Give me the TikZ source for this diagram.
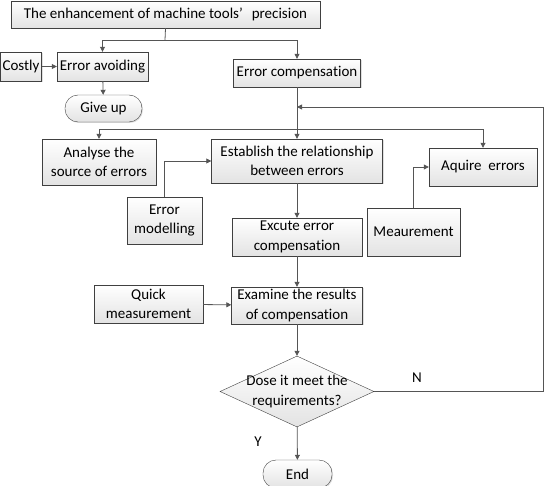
\documentclass[tikz,border=0pt]{standalone}
\usepackage{fontspec}
\setmainfont{Carlito}[Ligatures={NoCommon}]
\usepackage{tikz}
\usetikzlibrary{positioning,arrows.meta,shapes.geometric,shadows}
\definecolor{edgegray}{HTML}{404040}
\definecolor{linegray}{HTML}{555555}

\tikzset{
    box/.style={draw=edgegray, thin, top color=white, bottom color=gray!22, align=center,
        inner sep=0pt, font=\fontsize{15}{19.5}\selectfont,
        drop shadow={shadow xshift=1pt, shadow yshift=-1pt, opacity=0.25}},
    roundbox/.style={box, rounded corners=13pt},
    decision/.style={diamond, draw=edgegray, thin, top color=white, bottom color=gray!22,
        inner sep=0pt, aspect=2.17},
    arr/.style={-{Triangle[length=5pt,width=5pt]}, linegray, thick},
    wire/.style={linegray, thick},
    tag/.style={font=\fontsize{15}{19.5}\selectfont}
}

\begin{document}
\begin{tikzpicture}[x=1pt, y=-1pt]
    \useasboundingbox (0,0) rectangle (545,486);

    % boxes
    \node[box, minimum width=309pt, minimum height=27pt] (top) at (165.5,14.5) {The enhancement of machine tools’\hspace{0.6em}precision};
    \node[box, minimum width=41pt, minimum height=29pt] (costly) at (21,66.5) {Costly};
    \node[box, minimum width=91pt, minimum height=29pt] (avoid) at (102.5,66.5) {Error avoiding};
    \node[box, minimum width=127pt, minimum height=28pt] (comp) at (297,73) {Error compensation};
    \node[roundbox, minimum width=77pt, minimum height=27pt] (giveup) at (103.5,108.5) {Give up};
    \node[box, minimum width=114pt, minimum height=46pt] (analyse) at (99,162) {Analyse the\\source of errors};
    \node[box, minimum width=171pt, minimum height=44pt] (establish) at (297,161) {Establish the relationship\\between errors};
    \node[box, minimum width=108pt, minimum height=38pt] (aquire) at (483,167) {Aquire\ \ errors};
    \node[box, minimum width=75pt, minimum height=47pt] (model) at (164.5,220.5) {Error\\modelling};
    \node[box, minimum width=130pt, minimum height=38pt] (excute) at (297,237) {Excute error\\compensation};
    \node[box, minimum width=93pt, minimum height=48pt] (meas) at (413.5,232) {Meaurement};
    \node[box, minimum width=109pt, minimum height=38pt] (quick) at (148.5,304) {Quick\\measurement};
    \node[box, minimum width=131pt, minimum height=37pt] (examine) at (297,305.5) {Examine the results\\of compensation};
    \node[decision, minimum width=154pt, minimum height=71pt] (dec) at (297,391.5) {};
    \node[tag, align=center] (dectext) at (dec) {Dose it meet the\\requirements?};
    \node[roundbox, minimum width=69pt, minimum height=28pt] (end) at (297.5,474) {End};

    % junctions
    \coordinate (split1) at (165,40);
    \coordinate (split2) at (297,129.5);
    \coordinate (loopin) at (297,107);
    \coordinate (loopdn) at (543,391.5);
    \coordinate (loopup) at (543,107);

    % connectors
    \draw[wire] (top.south) -- (split1);
    \draw[arr] (split1) -| (avoid.north);
    \draw[arr] (split1) -| (comp.north);
    \draw[arr] (costly) -- (avoid);
    \draw[arr] (avoid) -- (giveup);
    \draw[wire] (comp.south) -- (split2);
    \draw[arr] (split2) -| (analyse.north);
    \draw[arr] (split2) -- (establish.north);
    \draw[arr] (split2) -| (aquire.north);
    \draw[arr] (model.north) |- (establish.west);
    \draw[arr] (meas.north) |- (aquire.west);
    \draw[arr] (establish) -- (excute);
    \draw[arr] (excute) -- (examine);
    \draw[arr] (quick) -- (examine);
    \draw[arr] (examine) -- (dec);
    \draw[arr] (dec) -- (end);
    \draw[wire] (dec.east) -- (loopdn) -- (loopup);
    \draw[arr] (loopup) -- (loopin);
    \node[tag] (ylabel) at (258,442) {Y};
    \node[tag] (nlabel) at (417,378) {N};
\end{tikzpicture}
\end{document}
